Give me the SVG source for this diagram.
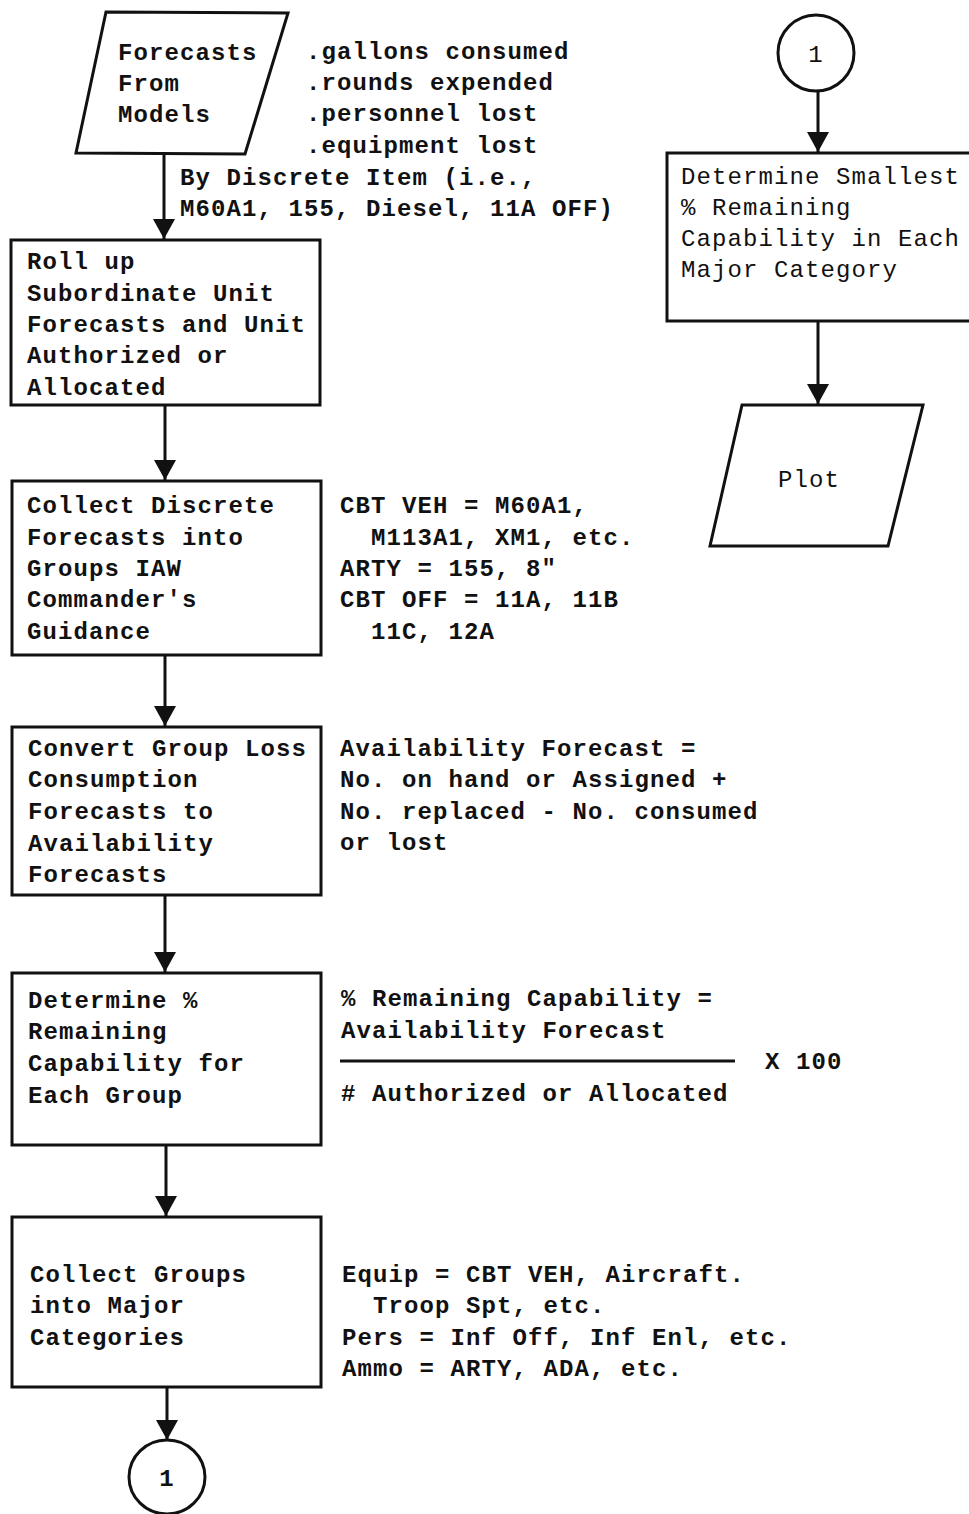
<svg xmlns="http://www.w3.org/2000/svg" width="969" height="1514" viewBox="0 0 969 1514">
<defs>
<style>
.t{font-family:"Liberation Mono","Courier New",monospace;font-size:24px;letter-spacing:1.1px;font-weight:bold;fill:#111}
.n{font-weight:normal}
.s{fill:#fff;stroke:#111;stroke-width:3;stroke-linejoin:miter}
.c{stroke:#111;stroke-width:3;fill:none}
</style>
<marker id="ah" viewBox="0 0 20 22" refX="20" refY="11" markerWidth="20" markerHeight="22" markerUnits="userSpaceOnUse" orient="auto">
<path d="M0,0 L20,11 L0,22 z" fill="#111"/>
</marker>
</defs>
<rect width="969" height="1514" fill="#fff"/>

<g id="connectors">
<line class="c" x1="164" y1="154" x2="164" y2="239" marker-end="url(#ah)"/>
<line class="c" x1="165" y1="405" x2="165" y2="480" marker-end="url(#ah)"/>
<line class="c" x1="165" y1="655" x2="165" y2="726" marker-end="url(#ah)"/>
<line class="c" x1="165" y1="895" x2="165" y2="972" marker-end="url(#ah)"/>
<line class="c" x1="166" y1="1145" x2="166" y2="1216" marker-end="url(#ah)"/>
<line class="c" x1="167" y1="1387" x2="167" y2="1440" marker-end="url(#ah)"/>
<line class="c" x1="818" y1="90" x2="818" y2="152" marker-end="url(#ah)"/>
<line class="c" x1="818" y1="321" x2="818" y2="404" marker-end="url(#ah)"/>
</g>

<g id="forecasts">
<polygon class="s" points="106,12 288,13 245,154 76,153"/>
<text class="t" x="118" y="60">Forecasts</text>
<text class="t" x="118" y="91">From</text>
<text class="t" x="118" y="122">Models</text>
</g>
<g id="forecasts-notes">
<text class="t" x="306" y="59">.gallons consumed</text>
<text class="t" x="306" y="90">.rounds expended</text>
<text class="t" x="306" y="121">.personnel lost</text>
<text class="t" x="306" y="153">.equipment lost</text>
<text class="t" x="180" y="185">By Discrete Item (i.e.,</text>
<text class="t" x="180" y="216">M60A1, 155, Diesel, 11A OFF)</text>
</g>

<g id="rollup">
<rect class="s" x="11" y="240" width="309" height="165"/>
<text class="t" x="27" y="269">Roll up</text>
<text class="t" x="27" y="301">Subordinate Unit</text>
<text class="t" x="27" y="332">Forecasts and Unit</text>
<text class="t" x="27" y="363">Authorized or</text>
<text class="t" x="27" y="395">Allocated</text>
</g>

<g id="collect-discrete">
<rect class="s" x="12" y="481" width="309" height="174"/>
<text class="t" x="27" y="513">Collect Discrete</text>
<text class="t" x="27" y="545">Forecasts into</text>
<text class="t" x="27" y="576">Groups IAW</text>
<text class="t" x="27" y="607">Commander's</text>
<text class="t" x="27" y="639">Guidance</text>
</g>
<g id="collect-discrete-notes">
<text class="t" x="340" y="513">CBT VEH = M60A1,</text>
<text class="t" x="340" y="545" xml:space="preserve">  M113A1, XM1, etc.</text>
<text class="t" x="340" y="576">ARTY = 155, 8"</text>
<text class="t" x="340" y="607">CBT OFF = 11A, 11B</text>
<text class="t" x="340" y="639" xml:space="preserve">  11C, 12A</text>
</g>

<g id="convert">
<rect class="s" x="12" y="727" width="309" height="168"/>
<text class="t" x="28" y="756">Convert Group Loss</text>
<text class="t" x="28" y="787">Consumption</text>
<text class="t" x="28" y="819">Forecasts to</text>
<text class="t" x="28" y="851">Availability</text>
<text class="t" x="28" y="882">Forecasts</text>
</g>
<g id="convert-notes">
<text class="t" x="340" y="756">Availability Forecast =</text>
<text class="t" x="340" y="787">No. on hand or Assigned +</text>
<text class="t" x="340" y="819">No. replaced - No. consumed</text>
<text class="t" x="340" y="850">or lost</text>
</g>

<g id="determine-pct">
<rect class="s" x="12" y="973" width="309" height="172"/>
<text class="t" x="28" y="1008">Determine %</text>
<text class="t" x="28" y="1039">Remaining</text>
<text class="t" x="28" y="1071">Capability for</text>
<text class="t" x="28" y="1103">Each Group</text>
</g>
<g id="determine-pct-notes">
<text class="t" x="341" y="1006">% Remaining Capability =</text>
<text class="t" x="341" y="1038">Availability Forecast</text>
<line class="c" x1="340" y1="1061" x2="735" y2="1061" stroke-width="2.5"/>
<text class="t" x="765" y="1069">X 100</text>
<text class="t" x="341" y="1101"># Authorized or Allocated</text>
</g>

<g id="collect-groups">
<rect class="s" x="12" y="1217" width="309" height="170"/>
<text class="t" x="30" y="1282">Collect Groups</text>
<text class="t" x="30" y="1313">into Major</text>
<text class="t" x="30" y="1345">Categories</text>
</g>
<g id="collect-groups-notes">
<text class="t" x="342" y="1282">Equip = CBT VEH, Aircraft.</text>
<text class="t" x="342" y="1313" xml:space="preserve">  Troop Spt, etc.</text>
<text class="t" x="342" y="1345">Pers = Inf Off, Inf Enl, etc.</text>
<text class="t" x="342" y="1376">Ammo = ARTY, ADA, etc.</text>
</g>

<g id="connector-out">
<ellipse class="s" cx="167" cy="1477" rx="38" ry="37"/>
<text class="t" x="167" y="1486" text-anchor="middle">1</text>
</g>

<g id="connector-in">
<ellipse class="s" cx="816" cy="53" rx="38" ry="38"/>
<text class="t n" x="816" y="62" text-anchor="middle">1</text>
</g>

<g id="determine-smallest">
<rect class="s" x="667" y="153" width="310" height="168"/>
<text class="t n" x="681" y="184">Determine Smallest</text>
<text class="t n" x="681" y="215">% Remaining</text>
<text class="t n" x="681" y="246">Capability in Each</text>
<text class="t n" x="681" y="277">Major Category</text>
</g>

<g id="plot">
<polygon class="s" points="742,405 923,405 888,546 710,546"/>
<text class="t n" x="778" y="487">Plot</text>
</g>
</svg>
